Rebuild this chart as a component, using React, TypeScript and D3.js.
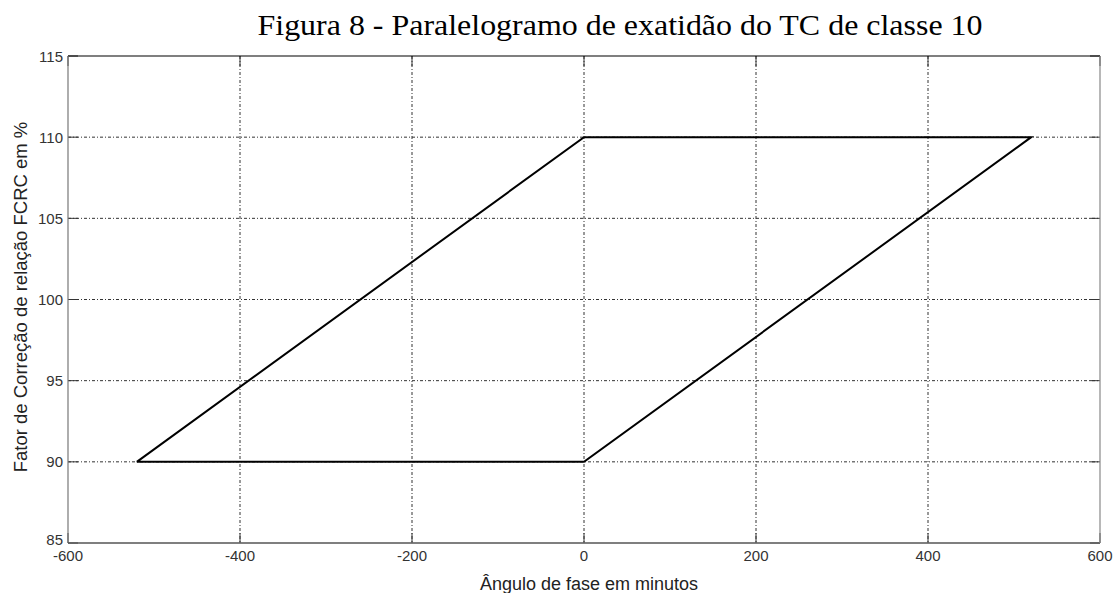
import React from "react";
import * as d3 from "d3";

const xTicks = [-600, -400, -200, 0, 200, 400, 600];
const yTicks = [85, 90, 95, 100, 105, 110, 115];
const polyX = [-520, 0, 520, 0, -520];
const polyY = [90, 110, 110, 90, 90];
const title = "Figura 8 - Paralelogramo de exatidão do TC de classe 10";
const xLabel = "Ângulo de fase em minutos";
const yLabel = "Fator de Correção de relação FCRC em %";

export default function App() {
  const W = 1114, H = 593;
  const L = 68, R = 1100, T = 56, B = 543;
  const x = d3.scaleLinear().domain([-600, 600]).range([L, R]);
  const y = d3.scaleLinear().domain([85, 115]).range([B, T]);
  const pts: [number, number][] = polyX.map((v, i) => [v, polyY[i]]);
  const line = d3.line<[number, number]>().x(d => x(d[0])).y(d => y(d[1]));
  const sans = "'Liberation Sans', Arial, sans-serif";
  return (
    <svg width={W} height={H} style={{ position: "absolute", left: 0, top: 0, background: "#fff" }}>
      <rect x={0} y={0} width={W} height={H} fill="#fff" />
      <text x={620} y={35} textAnchor="middle" fontFamily="'Liberation Serif', 'Times New Roman', serif" fontSize={29} textLength={725} lengthAdjust="spacingAndGlyphs" fill="#000">{title}</text>
      {xTicks.slice(1, -1).map(t => (
        <line key={"gx" + t} x1={x(t)} x2={x(t)} y1={T} y2={B} stroke="#333" strokeWidth={1} strokeDasharray="3,2,1,2" />
      ))}
      {yTicks.slice(1, -1).map(t => (
        <line key={"gy" + t} x1={L} x2={R} y1={y(t)} y2={y(t)} stroke="#333" strokeWidth={1} strokeDasharray="3,2,1,2" />
      ))}
      {xTicks.map(t => (
        <g key={"tx" + t}>
          <line x1={x(t)} x2={x(t)} y1={B} y2={B - 10} stroke="#333" />
          <line x1={x(t)} x2={x(t)} y1={T} y2={T + 10} stroke="#333" />
          <text x={x(t)} y={561} textAnchor="middle" fontFamily={sans} fontSize={15} fill="#333">{t}</text>
        </g>
      ))}
      {yTicks.map(t => (
        <g key={"ty" + t}>
          <line x1={L} x2={L + 10} y1={y(t)} y2={y(t)} stroke="#333" />
          <line x1={R} x2={R - 10} y1={y(t)} y2={y(t)} stroke="#333" />
          <text x={63} y={y(t) + (t === 85 ? 2 : 5.5)} textAnchor="end" fontFamily={sans} fontSize={15} fill="#333">{t}</text>
        </g>
      ))}
      <line x1={L} x2={R} y1={T} y2={T} stroke="#000" strokeWidth={1.2} />
      <line x1={L} x2={L} y1={T} y2={B} stroke="#777" strokeWidth={1.2} />
      <line x1={L} x2={R} y1={B} y2={B} stroke="#555" strokeWidth={1.5} />
      <line x1={R} x2={R} y1={T} y2={B} stroke="#888" strokeWidth={1.2} />
      <path d={line(pts) || ""} fill="none" stroke="#000" strokeWidth={2} />
      <text x={589} y={590} textAnchor="middle" fontFamily={sans} fontSize={18} fill="#222">{xLabel}</text>
      <text transform={`translate(27,297) rotate(-90)`} textAnchor="middle" fontFamily={sans} fontSize={18.5} fill="#222">{yLabel}</text>
    </svg>
  );
}
